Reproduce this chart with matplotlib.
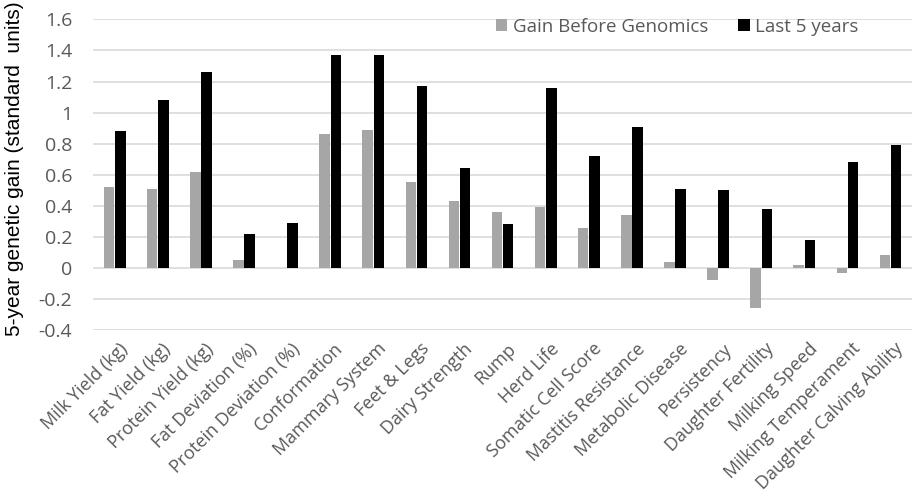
import numpy as np
import matplotlib
matplotlib.use("Agg")
import matplotlib.pyplot as plt
from matplotlib.transforms import ScaledTranslation

traits = ["Milk Yield (kg)", "Fat Yield (kg)", "Protein Yield (kg)",
          "Fat Deviation (%)", "Protein Deviation (%)", "Conformation",
          "Mammary System", "Feet & Legs", "Dairy Strength", "Rump",
          "Herd Life", "Somatic Cell Score", "Mastitis Resistance",
          "Metabolic Disease", "Persistency", "Daughter Fertility",
          "Milking Speed", "Milking Temperament", "Daughter Calving Ability"]
before_genomics = [0.52, 0.51, 0.62, 0.05, 0.0, 0.86, 0.89, 0.55, 0.43, 0.36,
                   0.39, 0.26, 0.34, 0.04, -0.08, -0.26, 0.02, -0.03, 0.08]
last_5_years = [0.88, 1.08, 1.26, 0.22, 0.29, 1.37, 1.37, 1.17, 0.64, 0.28,
                1.16, 0.72, 0.91, 0.51, 0.50, 0.38, 0.18, 0.68, 0.79]
y_ticks = [-0.4, -0.2, 0, 0.2, 0.4, 0.6, 0.8, 1, 1.2, 1.4, 1.6]

font = ["Open Sans", "DejaVu Sans"]

fig = plt.figure(figsize=(9.13, 4.97), dpi=100)
ax = fig.add_axes([0.102, 0.336, 0.897, 0.625])

x = np.arange(len(traits))
w = 0.245
ax.bar(x - 0.13, before_genomics, w, color="#a6a6a6", label="Gain Before Genomics", zorder=3)
ax.bar(x + 0.13, last_5_years, w, color="#000000", label="Last 5 years", zorder=3)

ax.set_xlim(-0.5, len(traits) - 0.5)
ax.set_ylim(-0.4, 1.6)
ax.set_yticks(y_ticks)
ax.set_yticklabels([f"{t:g}" for t in y_ticks], fontsize=14, color="#595959", family=font)
ax.yaxis.grid(True, color="#d9d9d9", linewidth=1.2, zorder=0)
ax.tick_params(axis="both", length=0)
ax.tick_params(axis="y", pad=15)
for s in ax.spines.values():
    s.set_visible(False)

ax.set_xticks(x)
ax.set_xticklabels(traits, rotation=45, ha="right", va="top", rotation_mode="anchor",
                   fontsize=13, color="#595959", family=font)
ax.tick_params(axis="x", pad=7)
shift = ScaledTranslation(4 / 100, 0, fig.dpi_scale_trans)
for lbl in ax.get_xticklabels():
    lbl.set_transform(lbl.get_transform() + shift)

ax.set_ylabel("5-year genetic gain (standard  units)", fontsize=15,
              family=["Liberation Sans", "DejaVu Sans"], color="black")
ax.yaxis.set_label_coords(-0.085, 0.52)

leg = ax.legend(loc="center left", bbox_to_anchor=(496 / 913, 1 - 27 / 497),
                bbox_transform=fig.transFigure, ncol=2, frameon=False,
                prop={"family": font, "size": 13.5}, borderpad=0, borderaxespad=0,
                handlelength=0.6, handleheight=0.6, handletextpad=0.3, columnspacing=1.6)
for t in leg.get_texts():
    t.set_color("#595959")

fig.savefig("out.png", dpi=100)
